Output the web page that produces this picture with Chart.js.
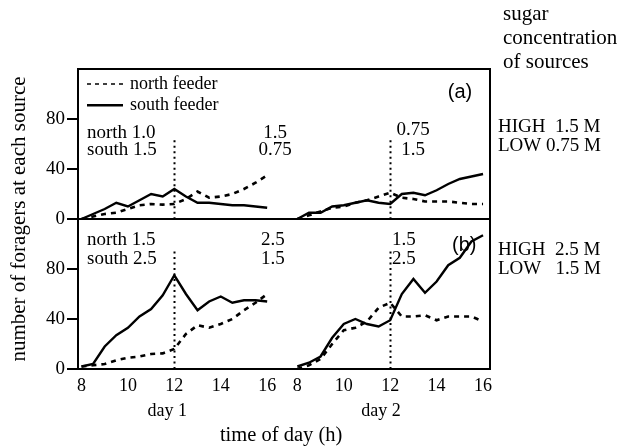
<!DOCTYPE html>
<html lang="en">
<head>
<meta charset="UTF-8">
<title>Foragers at each source</title>
<style>
  html, body { margin: 0; padding: 0; background: #fff; }
</style>
</head>
<body>
<canvas id="myChart" width="621" height="447"></canvas>
<script src="https://cdn.jsdelivr.net/npm/chart.js"></script>
<script>
// time of day (h), half-hour samples
const hours = [8, 8.5, 9, 9.5, 10, 10.5, 11, 11.5, 12, 12.5, 13, 13.5, 14, 14.5, 15, 15.5, 16];
const day2Offset = 9.3;      // day 2 is drawn to the right of day 1 on the same axis
const switchHour = 12;       // sources swapped here
const xTicks = [8, 10, 12, 14, 16];
const yTicks = [0, 40, 80];

// panel (a): HIGH 1.5 M / LOW 0.75 M
const northA1 = [0, 2, 4, 5, 8, 11, 12, 11.5, 12, 16, 22, 17, 18, 20, 24, 29, 35];
const southA1 = [0, 4, 8, 13, 10, 15, 20, 18, 24, 18, 13, 13, 12, 11, 11, 10, 9];
const northA2 = [0, 3, 6, 9, 10, 13, 15, 18, 21, 17, 16, 14, 14, 14, 13, 12, 12];
const southA2 = [0, 5, 5, 10, 11, 13, 15, 13, 12, 20, 21, 19, 23, 28, 32, 34, 36];

// panel (b): HIGH 2.5 M / LOW 1.5 M
const northB1 = [2, 3, 4, 7, 9, 10, 12, 12.5, 16, 28, 35, 33, 36, 40, 47, 53, 60];
const southB1 = [2, 4, 18, 27, 33, 42, 48, 59, 75, 60, 47, 54, 58, 53, 55, 55, 54];
const northB2 = [0, 3, 8, 20, 31, 33, 38, 49, 53, 42, 42, 43, 39, 42, 42, 42, 38];
const southB2 = [2, 5, 10, 25, 36, 40, 36, 34, 39, 60, 72, 61, 70, 83, 89, 102, 107];

const serif = '"Liberation Serif", "Times New Roman", serif';
const sans = '"Liberation Sans", Arial, sans-serif';

function pts(values, offset) {
    return hours.map((h, i) => ({ x: h + offset, y: values[i] }));
}

function line(values, offset, axis, dashed) {
    return {
        data: pts(values, offset),
        yAxisID: axis,
        borderColor: '#000',
        borderWidth: dashed ? 2.6 : 2.4,
        borderDash: dashed ? [5, 5] : [],
        pointRadius: 0,
        tension: 0,
        fill: false
    };
}

const panelText = {
    id: 'panelText',
    beforeDatasetsDraw(chart) {
        const { ctx, scales: { x, yA, yB } } = chart;
        ctx.save();
        ctx.strokeStyle = '#000';
        ctx.lineWidth = 2;
        ctx.setLineDash([2, 3.5]);
        [[yA, 63], [yB, 94]].forEach(([s, top]) => {
            [switchHour, switchHour + day2Offset].forEach(h => {
                const px = Math.round(x.getPixelForValue(h)) + 0.5;
                ctx.beginPath();
                ctx.moveTo(px, s.getPixelForValue(top));
                ctx.lineTo(px, s.getPixelForValue(0));
                ctx.stroke();
            });
        });
        ctx.restore();
    },
    afterDatasetsDraw(chart) {
        const { ctx, chartArea: a, scales: { x, yA, yB } } = chart;
        ctx.save();
        ctx.strokeStyle = '#000';
        ctx.lineWidth = 2;
        [yA, yB].forEach(s => ctx.strokeRect(a.left, s.top, a.right - a.left, s.bottom - s.top));

        ctx.fillStyle = '#000';
        ctx.textBaseline = 'middle';

        // legend
        ctx.font = '18px ' + serif;
        ctx.textAlign = 'left';
        const lx = a.left + 9;
        ctx.lineWidth = 1.6;
        ctx.setLineDash([4, 4]);
        ctx.beginPath();
        ctx.moveTo(lx, yA.getPixelForValue(108));
        ctx.lineTo(lx + 36, yA.getPixelForValue(108));
        ctx.stroke();
        ctx.setLineDash([]);
        ctx.lineWidth = 2.4;
        ctx.beginPath();
        ctx.moveTo(lx, yA.getPixelForValue(91));
        ctx.lineTo(lx + 36, yA.getPixelForValue(91));
        ctx.stroke();
        ctx.fillText('north feeder', lx + 43, yA.getPixelForValue(108));
        ctx.fillText('south feeder', lx + 43, yA.getPixelForValue(91));

        // concentrations in each period
        ctx.font = '19px ' + serif;
        ctx.fillText('north 1.0', lx, yA.getPixelForValue(69));
        ctx.fillText('south 1.5', lx, yA.getPixelForValue(55));
        ctx.fillText('north 1.5', lx, yB.getPixelForValue(103));
        ctx.fillText('south 2.5', lx, yB.getPixelForValue(88));
        ctx.textAlign = 'center';
        ctx.fillText('1.5', x.getPixelForValue(16.34), yA.getPixelForValue(69));
        ctx.fillText('0.75', x.getPixelForValue(16.34), yA.getPixelForValue(55));
        ctx.fillText('0.75', x.getPixelForValue(22.29), yA.getPixelForValue(71));
        ctx.fillText('1.5', x.getPixelForValue(22.29), yA.getPixelForValue(55));
        ctx.fillText('2.5', x.getPixelForValue(16.25), yB.getPixelForValue(103));
        ctx.fillText('1.5', x.getPixelForValue(16.25), yB.getPixelForValue(88));
        ctx.textAlign = 'left';
        ctx.fillText('1.5', x.getPixelForValue(21.38), yB.getPixelForValue(103));
        ctx.fillText('2.5', x.getPixelForValue(21.38), yB.getPixelForValue(88));

        // panel letters
        ctx.font = '20px ' + sans;
        ctx.textAlign = 'center';
        ctx.fillText('(a)', x.getPixelForValue(24.31), yA.getPixelForValue(101));
        ctx.fillText('(b)', x.getPixelForValue(24.49), yB.getPixelForValue(99));

        // day labels and axis title
        ctx.font = '18px ' + serif;
        ctx.fillText('day 1', x.getPixelForValue(11.7), 411);
        ctx.fillText('day 2', x.getPixelForValue(11.6 + day2Offset), 411);
        ctx.font = '20.5px ' + serif;
        ctx.fillText('time of day (h)', x.getPixelForValue(16.6), 436);

        // y title
        ctx.save();
        ctx.translate(19, (yA.top + yB.bottom) / 2);
        ctx.rotate(-Math.PI / 2);
        ctx.font = '21px ' + serif;
        ctx.fillText('number of foragers at each source', 0, 0);
        ctx.restore();

        // right-hand key
        ctx.textAlign = 'left';
        ctx.font = '21px ' + serif;
        ctx.fillText('sugar', 503, 14);
        ctx.fillText('concentration', 503, 38);
        ctx.fillText('of sources', 503, 62);
        ctx.font = '19px ' + serif;
        ctx.fillText('HIGH  1.5 M', 498, 127);
        ctx.fillText('LOW 0.75 M', 498, 146);
        ctx.fillText('HIGH  2.5 M', 498, 250);
        ctx.fillText('LOW   1.5 M', 498, 269);
        ctx.restore();
    }
};

const ctx = document.getElementById('myChart');

const yAxis = {
    type: 'linear',
    position: 'left',
    stack: 'panels',
    stackWeight: 1,
    min: 0,
    max: 120,
    afterBuildTicks: s => { s.ticks = yTicks.map(v => ({ value: v })); },
    afterFit: s => { s.width = 78; },
    ticks: { font: { family: serif, size: 19 }, color: '#000', padding: 2 },
    grid: { drawOnChartArea: false, drawTicks: true, tickLength: 11, color: '#000', lineWidth: 2 },
    border: { color: '#000', width: 2 }
};

new Chart(ctx, {
    type: 'line',
    data: {
        datasets: [
            line(northA1, 0, 'yA', true),
            line(southA1, 0, 'yA', false),
            line(northA2, day2Offset, 'yA', true),
            line(southA2, day2Offset, 'yA', false),
            line(northB1, 0, 'yB', true),
            line(southB1, 0, 'yB', false),
            line(northB2, day2Offset, 'yB', true),
            line(southB2, day2Offset, 'yB', false)
        ]
    },
    options: {
        responsive: false,
        animation: false,
        devicePixelRatio: 1,
        layout: { padding: { left: 0, right: 131, top: 69, bottom: 0 } },
        plugins: { legend: { display: false }, tooltip: { enabled: false } },
        scales: {
            x: {
                type: 'linear',
                min: 7.85,
                max: 25.6,
                afterBuildTicks: s => {
                    s.ticks = xTicks.concat(xTicks.map(t => t + day2Offset)).map(v => ({ value: v }));
                },
                afterFit: s => { s.height = 78; },
                ticks: {
                    callback: v => v > 16.5 ? Math.round(v - day2Offset) : v,
                    font: { family: serif, size: 18 },
                    color: '#000',
                    padding: -2,
                    maxRotation: 0,
                    autoSkip: false
                },
                grid: { display: false },
                border: { color: '#000', width: 2 }
            },
            yB: Object.assign({}, yAxis),
            yA: Object.assign({}, yAxis)
        }
    },
    plugins: [panelText]
});
</script>
</body>
</html>
